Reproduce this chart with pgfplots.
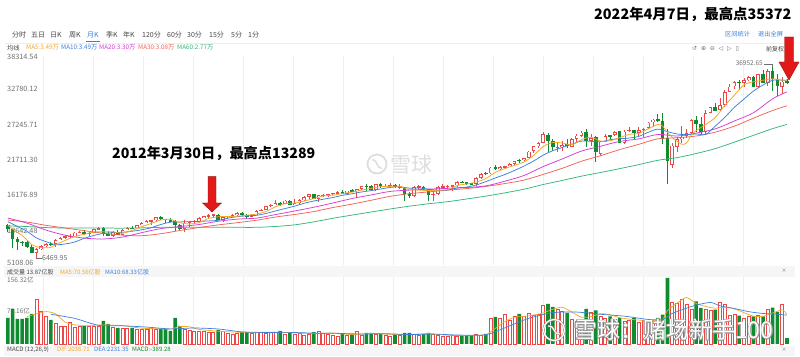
\documentclass[border=0pt]{standalone}
\usepackage{pgfplots}
\pgfplotsset{compat=1.18}
\usepackage{pgfplotstable}
\usepackage{fontspec}
\setmainfont{Noto Sans CJK SC}
\newfontfamily\djv{DejaVu Sans}
\definecolor{kred}{RGB}{236,70,70}
\definecolor{kgreen}{RGB}{16,140,48}
\definecolor{cma5}{RGB}{245,166,35}
\definecolor{cma10}{RGB}{60,130,220}
\definecolor{cma20}{RGB}{214,60,214}
\definecolor{cma30}{RGB}{240,100,85}
\definecolor{cma60}{RGB}{50,185,120}
\definecolor{uiblue}{RGB}{59,125,216}
\definecolor{tgray}{RGB}{70,70,70}
\definecolor{lgray}{RGB}{110,110,110}
\definecolor{gridc}{RGB}{238,238,238}
\definecolor{bandc}{RGB}{246,246,246}
\definecolor{arred}{RGB}{228,24,24}
\definecolor{arrdark}{RGB}{140,20,20}
\definecolor{wmc}{RGB}{222,222,222}
\definecolor{wmo}{RGB}{150,150,150}

\pgfplotstableread{
i o h l c v u
0 11543 11790 10365 10851 61.6 0
1 10847 10883 7882 9325 83.0 0
2 9326 9654 7449 8829 59.3 0
3 8830 9026 8149 8776 59.3 0
4 8772 9088 7909 8001 61.6 0
5 8001 8280 7127 7063 71.1 0
6 7057 7924 6470 7609 106.7 1
7 7609 8292 7491 8168 78.2 1
8 8168 8588 8045 8500 66.4 1
9 8500 8878 8221 8447 56.9 0
10 8447 9255 8087 9172 49.8 1
11 9172 9630 9065 9496 42.7 1
12 9497 9918 9253 9712 42.7 1
13 9700 10120 9488 9713 52.1 1
14 9713 10406 9678 10345 40.3 1
15 10344 10581 10236 10428 42.7 1
16 10430 10730 10012 10067 42.7 0
17 10068 10408 9835 10325 42.7 1
18 10325 10920 10305 10857 42.7 1
19 10857 11258 10812 11009 42.7 1
20 11009 11206 9775 10137 54.5 0
21 10137 10595 9721 9774 47.4 0
22 9774 10585 9614 10466 40.3 1
23 10466 10720 9937 10015 37.9 0
24 10015 10948 10010 10788 37.9 1
25 10789 11245 10707 11118 37.9 1
26 11120 11452 10929 11006 37.9 0
27 11006 11625 11006 11578 35.6 1
28 11577 11981 11574 11892 35.6 1
29 11892 12392 11862 12226 35.6 1
30 12226 12419 11555 12320 37.9 1
31 12320 12876 12093 12811 35.6 1
32 12811 12929 12325 12570 35.6 0
33 12570 12570 11862 12414 35.6 0
34 12414 12753 12093 12143 30.8 0
35 12144 12284 10604 11614 61.6 0
36 11614 11716 10597 10913 42.7 0
37 10913 12284 10405 11955 35.6 1
38 11955 12187 11231 12046 33.2 1
39 12046 12360 11735 12218 30.8 1
40 12221 12842 12221 12633 30.8 1
41 12633 13056 12623 12952 30.8 1
42 12952 13290 12746 13212 28.4 1
43 13212 13309 12710 13214 28.4 1
44 13214 13338 12392 12393 33.2 0
45 12392 12898 12035 12880 30.8 1
46 12880 13049 12492 13009 26.1 1
47 13009 13330 12882 13091 23.7 1
48 13090 13653 13040 13437 26.1 1
49 13437 13661 13043 13096 28.4 0
50 13099 13290 12471 13026 28.4 0
51 13027 13307 12884 13104 26.1 1
52 13104 13970 13104 13861 28.4 1
53 13861 14149 13784 14054 28.4 1
54 14054 14585 13938 14579 26.1 1
55 14580 14888 14434 14840 28.4 1
56 14840 15543 14746 15116 28.4 1
57 15116 15340 14551 14910 30.8 0
58 14910 15634 14910 15500 23.7 1
59 15500 15659 14760 14810 26.1 0
60 14810 15710 14778 15130 23.7 1
61 15130 15710 14720 15546 26.1 1
62 15546 16174 15470 16086 21.3 1
63 16086 16588 15703 16577 23.7 1
64 16573 16588 15699 15699 28.4 0
65 15698 16398 15341 16322 30.8 1
66 16321 16588 16016 16458 26.1 1
67 16458 16631 16015 16581 23.7 1
68 16581 16736 16334 16717 21.3 1
69 16717 16978 16699 16827 19.0 1
70 16826 17152 16562 16563 23.7 0
71 16561 17116 16334 17098 21.3 1
72 17098 17350 16945 17043 21.3 0
73 17041 17395 15855 17391 29.6 1
74 17390 17894 17265 17828 21.3 1
75 17827 18103 17068 17823 26.1 0
76 17823 17951 17136 17165 26.1 0
77 17169 18244 17037 18133 23.7 1
78 18135 18289 17585 17776 23.7 0
79 17777 18175 17699 17841 21.3 1
80 17840 18351 17806 18011 19.0 1
81 18011 18204 17595 17620 21.3 0
82 17638 18138 17399 17690 21.3 1
83 17690 17710 15370 16528 26.1 0
84 16528 16933 15942 16285 26.1 0
85 16285 17799 16013 17664 23.7 1
86 17664 17978 17401 17720 21.3 1
87 17720 17889 17128 17425 23.7 0
88 17405 17405 15451 16466 26.1 0
89 16452 16795 15503 16517 23.7 1
90 16516 17792 16405 17685 21.3 1
91 17686 18168 17484 17774 19.0 1
92 17774 17935 17331 17787 19.0 1
93 17787 18017 17064 17930 21.3 1
94 17925 18623 17713 18432 19.0 1
95 18434 18668 18289 18401 19.0 0
96 18402 18534 17993 18308 21.3 0
97 18309 18399 17960 18142 19.0 0
98 18161 19226 17884 19124 23.7 1
99 19150 19987 19018 19763 21.3 1
100 19873 20126 19677 19864 23.7 0
101 19872 20851 19832 20812 60.0 1
102 20957 21170 20412 20663 64.0 0
103 20665 21070 20379 20941 61.6 1
104 20962 21113 20553 21009 69.4 1
105 21030 21535 21002 21350 55.2 1
106 21392 21930 21279 21891 65.6 1
107 21961 22179 21600 21948 71.1 0
108 21981 22419 21709 22405 65.6 1
109 22423 23486 22416 23377 73.5 1
110 23443 24327 23242 24272 67.1 1
111 24305 24876 23922 24719 69.4 1
112 24809 26617 24741 26149 90.8 1
113 26083 26307 23360 25029 94.8 0
114 25025 25450 23509 24103 87.7 0
115 24076 24858 23345 24163 83.0 1
116 24117 25087 23531 24416 77.5 1
117 24542 25402 23998 24271 73.5 0
118 24161 25552 24078 25415 57.6 1
119 25462 26167 24965 25965 53.8 1
120 25917 26770 25799 26458 55.2 1
121 26599 26952 24122 25116 83.0 0
122 25151 26278 24268 25538 75.1 1
123 25779 25981 21713 23327 79.9 0
124 23059 25056 22639 25000 65.6 1
125 24999 26241 24898 25916 61.6 1
126 25977 26110 25208 25929 65.6 0
127 26076 26696 25937 26593 57.6 1
128 26640 26676 24815 24815 61.6 0
129 24840 26908 24681 26600 53.8 1
130 26788 27399 26503 26864 56.2 1
131 26873 26944 25339 26403 61.6 0
132 26426 27307 25978 26917 51.4 1
133 26962 27130 25743 27046 56.2 1
134 27193 28175 27037 28051 55.2 1
135 28109 28702 27325 28538 53.8 1
136 28639 29374 28170 28256 61.6 0
137 28319 29568 24681 25409 69.4 0
138 25591 27102 18214 21917 156.32 0
139 21227 24765 20735 24346 98.8 1
140 24120 25759 23361 25383 97.2 1
141 25342 27581 24844 25813 105.0 1
142 25880 26969 25552 26428 93.1 1
143 26413 28651 26165 28430 83.0 1
144 28439 29199 26538 27782 101.2 0
145 27816 28959 26144 26502 85.3 0
146 26501 30117 26277 29639 81.3 1
147 29658 30637 29602 30606 79.9 1
148 30628 31272 29857 29983 81.3 0
149 30054 31962 29988 30932 98.8 1
150 30950 33259 30547 32982 93.1 1
151 33054 34256 32955 33875 68.0 1
152 33904 34712 33474 34529 69.4 1
153 34584 34850 33272 34503 67.1 0
154 34507 35172 33742 34935 61.6 1
155 34943 35631 34699 35361 65.6 1
156 35371 35510 33786 33844 65.6 0
157 33820 35893 33614 35820 67.1 1
158 35833 36566 34425 34484 65.6 0
159 34520 36680 34006 36338 82.0 1
160 36322 36953 33150 35132 86.0 0
161 35132 35824 32272 33893 76.0 0
162 33795 35372 32632 34678 94.0 1
163 34741 35093 34339 34583 13.87 0
}\kdata

\newcommand{\fs}[1]{\fontsize{#1}{#1}\selectfont}

\begin{document}
\begin{tikzpicture}[x=1pt,y=1pt]
\fill[white] (0,0) rectangle (800,356);

% vertical faint grid
\foreach \gx in {43,93,143,193,243,293,343,393,443,493,543,593,643,693,743}{
  \draw[gridc, line width=0.6pt] (\gx,91) -- (\gx,300);
  \draw[gridc, line width=0.6pt] (\gx,12) -- (\gx,79);
}

% header
\node[anchor=west, inner sep=0, text=black, font=\fs{14.4}\bfseries] at (594,342) {2022年4月7日，最高点35372};
\foreach \tx/\tt in {12/分时,31/五日,50/日K,69/周K,106/季K,123/年K,142/120分,167/60分,187/30分,209/15分,231/5分,248/1分}{
  \node[anchor=west, inner sep=0, text=tgray, font=\fs{7}] at (\tx,321) {\tt};
}
\node[anchor=west, inner sep=0, text=uiblue, font=\fs{7}] at (87,321) {月K};
\draw[gridc, line width=0.8pt] (5,313) -- (795,313);
\draw[uiblue, line width=1.3pt] (86,314.2) -- (100,314.2);
\node[anchor=west, inner sep=0, text=uiblue, font=\fs{6.2}] at (725,322) {区间统计};
\node[anchor=west, inner sep=0, text=uiblue, font=\fs{6.2}] at (758,322) {退出全屏};
\node[anchor=west, inner sep=0, text=lgray, font=\djv\fs{6}] at (692,307) {↺\ \ ⊕\ \ ⊖\ \ ◁\ \ ▷\ \ ▯};
\node[anchor=west, inner sep=0, text=tgray, font=\fs{6}] at (766,307) {前复权};

% legend row
\node[anchor=west, inner sep=0, text=tgray, font=\fs{6.3}] at (7,308.3) {均线};
\node[anchor=west, inner sep=0, text=cma5, font=\fs{6.3}] at (26,308.3) {MA5:3.49万};
\node[anchor=west, inner sep=0, text=cma10, font=\fs{6.3}] at (61,308.3) {MA10:3.49万};
\node[anchor=west, inner sep=0, text=cma20, font=\fs{6.3}] at (99,308.3) {MA20:3.30万};
\node[anchor=west, inner sep=0, text=cma30, font=\fs{6.3}] at (138,308.3) {MA30:3.08万};
\node[anchor=west, inner sep=0, text=cma60, font=\fs{6.3}] at (177,308.3) {MA60:2.77万};

% price labels
\foreach \py/\pt in {299.3/38314.54,266.7/32780.12,231.3/27245.71,196/21711.30,160.7/16176.89,125.5/10642.48,93.3/5108.06}{
  \node[anchor=west, inner sep=0, text=lgray, font=\fs{7.3}] at (7,\py) {\pt};
}

% center watermark
\draw[wmc, line width=1.8pt] (377,192) circle (9.5);
\draw[wmc, line width=1.5pt] (372,196.5) .. controls (378,196.5) and (376,187.5) .. (382,187.5);
\node[anchor=west, inner sep=0, text=wmc, font=\fs{21}] at (390,191) {雪球};

% annotation 2012
\node[anchor=west, inner sep=0, text=black, font=\fs{14.2}\bfseries] at (112,202.7) {2012年3月30日，最高点13289};

% bands
\fill[bandc] (4,79) rectangle (795,90);
\fill[bandc] (4,0) rectangle (795,10);
\node[anchor=west, inner sep=0, text=tgray, font=\fs{6}] at (7,84) {成交量 13.87亿股};
\node[anchor=west, inner sep=0, text=cma5, font=\fs{6}] at (60,84) {MA5:70.56亿股};
\node[anchor=west, inner sep=0, text=cma10, font=\fs{6}] at (105,84) {MA10:68.33亿股};
\node[anchor=west, inner sep=0, text=lgray, font=\fs{6.5}] at (7,76) {156.32亿};
\node[anchor=west, inner sep=0, text=lgray, font=\fs{6.5}] at (7,45) {78.16亿};
\node[anchor=west, inner sep=0, text=tgray, font=\fs{6}] at (7,6.7) {MACD (12,26,9)};
\node[anchor=west, inner sep=0, text=cma5, font=\fs{6}] at (57,6.7) {DIF:2036.71};
\node[anchor=west, inner sep=0, text=cma10, font=\fs{6}] at (94,6.7) {DEA:2231.35};
\node[anchor=west, inner sep=0, text=kgreen, font=\fs{6}] at (132,6.7) {MACD:-389.28};
\node[inner sep=0, text=lgray, font=\fs{5}] at (784,85) {×};
\node[inner sep=0, text=lgray, font=\fs{5}] at (784,6.5) {×};

% price axis
\begin{axis}[at={(3.98pt,91pt)}, anchor=south west, scale only axis,
  width=788.7pt, height=206pt, xmin=-0.8, xmax=164.2,
  ymin=5108.06, ymax=38314.54, hide axis, clip=false]
% wicks
\addplot[draw=none, mark=none, restrict y to domain=0:100000,
  error bars/.cd, y dir=both, y explicit, error mark=none,
  error bar style={draw=kred, line width=0.8pt}]
  table[x=i, y expr={(2*\thisrow{u}-1)*(\thisrow{h}+\thisrow{l})/2},
        y error expr={(\thisrow{h}-\thisrow{l})/2}] {\kdata};
\addplot[draw=none, mark=none, restrict y to domain=0:100000,
  error bars/.cd, y dir=both, y explicit, error mark=none,
  error bar style={draw=kgreen, line width=0.8pt}]
  table[x=i, y expr={(1-2*\thisrow{u})*(\thisrow{h}+\thisrow{l})/2},
        y error expr={(\thisrow{h}-\thisrow{l})/2}] {\kdata};
% bodies
\addplot[draw=none, mark=none, restrict y to domain=0:100000,
  error bars/.cd, y dir=both, y explicit, error mark=none,
  error bar style={draw=kgreen, line width=3.6pt, line cap=butt}]
  table[x=i, y expr={(1-2*\thisrow{u})*(\thisrow{o}+\thisrow{c})/2},
        y error expr={max(abs(\thisrow{o}-\thisrow{c})/2,60)}] {\kdata};
\addplot[draw=none, mark=none, restrict y to domain=0:100000,
  error bars/.cd, y dir=both, y explicit, error mark=none,
  error bar style={draw=kred, line width=3.6pt, line cap=butt}]
  table[x=i, y expr={(2*\thisrow{u}-1)*(\thisrow{o}+\thisrow{c})/2},
        y error expr={max(abs(\thisrow{o}-\thisrow{c})/2,70)}] {\kdata};
\addplot[draw=none, mark=none, restrict y to domain=0:100000,
  error bars/.cd, y dir=both, y explicit, error mark=none,
  error bar style={draw=white, line width=2.0pt, line cap=butt}]
  table[x=i, y expr={(2*\thisrow{u}-1)*(\thisrow{o}+\thisrow{c})/2},
        y error expr={max(abs(\thisrow{o}-\thisrow{c})/2-130,0)}] {\kdata};
% MA lines
\addplot[cma60, line width=0.75pt, smooth, tension=0.5, mark=none] coordinates {
(0,11400) (4,11310) (8,11140) (12,11070) (16,11060) (20,11060) (24,11050) (28,11090) (32,11180) (36,11210) (40,11200) (44,11210) (48,11180) (52,11180) (56,11320) (60,11580) (64,12060) (68,12640) (72,13150) (76,13650) (80,14140) (84,14590) (88,14980) (92,15310) (96,15750) (100,16210) (104,16740) (108,17330) (112,18080) (116,18740) (120,19430) (124,20020) (128,20640) (132,21290) (136,21990) (140,22410) (144,23080) (148,23870) (152,24910) (156,26010) (160,27090) (163,27770)};
\addplot[cma30, line width=0.75pt, smooth, tension=0.5, mark=none] coordinates {
(0,12360) (4,12030) (8,11500) (12,11070) (16,10640) (20,10230) (24,9920) (28,9830) (32,10150) (36,10670) (40,11150) (44,11570) (48,11930) (52,12320) (56,12840) (60,13250) (64,13720) (68,14370) (72,14920) (76,15540) (80,16180) (84,16600) (88,16890) (92,17170) (96,17430) (100,17770) (104,18240) (108,18800) (112,19710) (116,20700) (120,21830) (124,22730) (128,23710) (132,24560) (136,25450) (140,25620) (144,25900) (148,26520) (152,27490) (156,28780) (160,30010) (163,30770)};
\addplot[cma20, line width=0.75pt, smooth, tension=0.5, mark=none] coordinates {
(0,12680) (4,11860) (8,10730) (12,9910) (16,9440) (20,9300) (24,9610) (28,10320) (32,10970) (36,11300) (40,11630) (44,12160) (48,12500) (52,12660) (56,13240) (60,13810) (64,14420) (68,15100) (72,15820) (76,16400) (80,16970) (84,17180) (88,17340) (92,17460) (96,17600) (100,17860) (104,18620) (108,19540) (112,20970) (116,22210) (120,23470) (124,24250) (128,25030) (132,25440) (136,26150) (140,25900) (144,26370) (148,27050) (152,28320) (156,29660) (160,31900) (163,33020)};
\addplot[cma10, line width=0.75pt, smooth, tension=0.5, mark=none] coordinates {
(0,12100) (2,11330) (4,10550) (6,9470) (8,8870) (10,8390) (12,8500) (14,8820) (16,9410) (18,9860) (20,10210) (22,10310) (24,10390) (26,10550) (28,10780) (30,11120) (32,11630) (34,12010) (36,12050) (38,12100) (40,12130) (42,12210) (44,12310) (46,12650) (48,12900) (50,13030) (52,13110) (54,13410) (56,13820) (58,14210) (60,14590) (62,15060) (64,15420) (66,15710) (68,15990) (70,16340) (72,16590) (74,16880) (76,17100) (78,17360) (80,17610) (82,17730) (84,17490) (86,17530) (88,17330) (90,17160) (92,17190) (94,17540) (96,17670) (98,18010) (100,18550) (102,19140) (104,19700) (106,20350) (108,21060) (110,21870) (112,22810) (114,23530) (116,24060) (118,24590) (120,25070) (122,25050) (124,24970) (126,25300) (128,25470) (130,25570) (132,25840) (134,26510) (136,27010) (138,26600) (140,26230) (142,26120) (144,26230) (146,26170) (148,27490) (150,28910) (152,30530) (154,31850) (156,33150) (158,34130) (160,34880) (162,34900) (163,34910)};
\addplot[cma5, line width=0.75pt, smooth, tension=0.5, mark=none] coordinates {
(0,11550) (1,10890) (2,10390) (3,9870) (4,9160) (5,8400) (6,8060) (7,7920) (8,7870) (9,7960) (10,8380) (12,9070) (14,9690) (16,10050) (18,10410) (20,10480) (22,10450) (24,10240) (26,10680) (28,11280) (30,11810) (32,12360) (34,12450) (36,11930) (38,11730) (40,11950) (42,12610) (44,12880) (46,12940) (48,12960) (50,13130) (52,13310) (54,13720) (56,14490) (58,14990) (60,15090) (62,15420) (64,15810) (66,16230) (68,16360) (70,16630) (72,16850) (74,17180) (76,17450) (78,17740) (80,17780) (82,17790) (84,17230) (86,17180) (88,17110) (90,17170) (92,17250) (94,17920) (96,18170) (98,18480) (100,19040) (102,20040) (104,20660) (106,21170) (108,21720) (110,22780) (112,24190) (114,24850) (116,24770) (118,24470) (120,25310) (122,25700) (124,25090) (126,25140) (128,25650) (130,26160) (132,26320) (134,27060) (136,27760) (137,27460) (138,26440) (139,25700) (140,25060) (141,24570) (142,24780) (143,26080) (144,26770) (146,27760) (148,28900) (150,30830) (152,32460) (154,34160) (156,34630) (158,34890) (160,35120) (162,34900) (163,34920)};
\end{axis}

% min / max labels
\draw[lgray, line width=0.5pt] (763.5,291.5) -- (772.6,291.5) -- (772.6,288.5);
\node[anchor=east, inner sep=0, text=lgray, font=\fs{6.5}] at (763,293.3) {36952.65};
\draw[lgray, line width=0.5pt] (36.5,99.4) -- (36.5,97.7) -- (41.5,97.7);
\node[anchor=west, inner sep=0, text=lgray, font=\fs{7}] at (42,98.3) {6469.95};

% volume axis
\begin{axis}[at={(3.98pt,12pt)}, anchor=south west, scale only axis,
  width=788.7pt, height=66pt, xmin=-0.8, xmax=164.2,
  ymin=0, ymax=156.32, hide axis, clip=false]
\addplot[ybar, bar width=3.0pt, bar shift=0pt, draw=kred, fill=white, line width=0.7pt,
  restrict y to domain=0.001:1000]
  table[x=i, y expr={(2*\thisrow{u}-1)*\thisrow{v}}] {\kdata};
\addplot[ybar, bar width=3.6pt, bar shift=0pt, draw=none, fill=kgreen,
  restrict y to domain=0.001:1000]
  table[x=i, y expr={(1-2*\thisrow{u})*\thisrow{v}}] {\kdata};
\addplot[cma5, line width=0.7pt, smooth, tension=0.4, mark=none] coordinates {
(4,64.9) (6,71.6) (8,76.8) (10,71.6) (12,51.7) (14,45.5) (16,44.1) (20,45.0) (24,43.6) (28,37.4) (32,36.0) (34,35.1) (36,41.2) (38,40.8) (40,34.6) (44,30.3) (48,28.0) (52,27.5) (56,28.0) (60,26.5) (64,24.6) (68,26.1) (72,22.3) (76,24.9) (80,22.8) (84,22.8) (88,24.2) (92,20.9) (96,19.9) (100,21.8) (101,28.9) (102,37.0) (104,53.3) (106,63.3) (108,65.4) (110,68.5) (112,73.5) (114,82.2) (116,87.0) (118,75.8) (120,63.5) (122,64.7) (124,71.8) (126,69.4) (128,62.3) (130,59.0) (132,56.6) (134,55.7) (136,55.7) (137,58.0) (138,79.3) (140,96.7) (142,110.1) (144,96.0) (146,88.9) (148,84.8) (150,87.0) (152,83.2) (154,74.2) (156,65.9) (158,65.6) (160,73.3) (162,80.7) (163,70.56)};
\addplot[cma10, line width=0.7pt, smooth, tension=0.4, mark=none] coordinates {
(9,70.4) (14,60.7) (19,44.1) (24,43.1) (29,40.1) (34,35.8) (39,37.9) (44,35.6) (49,28.7) (54,27.3) (59,27.5) (64,25.8) (69,25.1) (74,23.7) (79,24.4) (84,22.3) (89,23.5) (94,21.3) (99,20.9) (101,24.7) (104,38.2) (109,60.9) (114,74.2) (119,75.6) (124,70.4) (129,65.9) (134,58.1) (137,58.1) (139,72.3) (142,84.8) (144,92.2) (147,98.4) (149,90.5) (152,84.1) (155,76.6) (158,72.3) (161,70.6) (163,68.33)};
\end{axis}

% bottom-right watermark (outlined)
\draw[wmo, line width=2.2pt] (554,26) circle (10.5);
\draw[white, line width=1.2pt] (554,26) circle (10.5);
\draw[wmo, line width=2.0pt] (548,30) .. controls (556,30) and (552,22) .. (560,22);
\draw[white, line width=1.0pt] (548,30) .. controls (556,30) and (552,22) .. (560,22);
\foreach \dx/\dy in {-0.55/0,0.55/0,0/-0.55,0/0.55,-0.4/-0.4,0.4/0.4,-0.4/0.4,0.4/-0.4}{
  \node[anchor=west, inner sep=0, text=wmo, font=\fs{23}] at (574+\dx,26+\dy) {雪球：赌场新手100};
}
\node[anchor=west, inner sep=0, text=white, font=\fs{23}] at (574,26) {雪球：赌场新手100};

% arrows
\filldraw[fill=arred, draw=arrdark, line width=0.4pt] (208,179.3) -- (216,179.3) -- (216,153) -- (221.5,153) -- (212,144) -- (202.5,153) -- (208,153) -- cycle;
\filldraw[fill=arred, draw=arrdark, line width=0.4pt] (784.5,319) -- (793.5,319) -- (793.5,294) -- (799,294) -- (789,276) -- (779,294) -- (784.5,294) -- cycle;
\end{tikzpicture}
\end{document}
